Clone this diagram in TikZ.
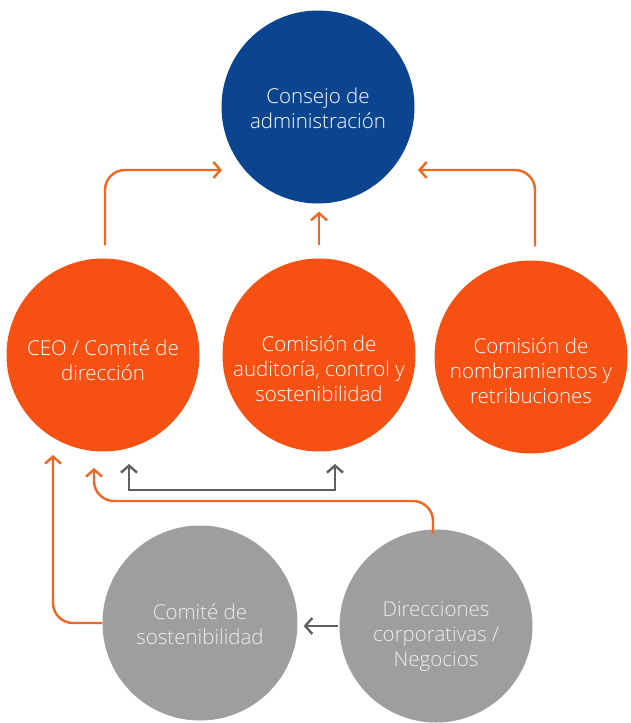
\documentclass[tikz,border=0pt]{standalone}
\usepackage{fontspec}
\setmainfont{Open Sans}[UprightFont=* Light]
\usetikzlibrary{arrows.meta,calc}
\definecolor{cnavy}{HTML}{0B4590}
\definecolor{corange}{HTML}{F65012}
\definecolor{cgray}{HTML}{9E9E9C}
\definecolor{aorange}{HTML}{F26522}
\definecolor{agray}{HTML}{606060}
\begin{document}
\begin{tikzpicture}[x=1pt,y=-1pt,
  circ/.style={circle, inner sep=0pt, minimum size=193pt},
  txt/.style={text=white, align=center, inner sep=0pt, font=\fontsize{20.5}{25}\selectfont},
  gtxt/.style={txt, text=white!93!black},
  barb/.tip={Straight Barb[length=7pt,width=16pt,line width=2.4pt]},
  oarrow/.style={draw=aorange, line width=2.4pt, -{barb}, rounded corners=20pt},
  garrow/.style={draw=agray, line width=2.4pt}]
\useasboundingbox (0,0) rectangle (630,723);
% circles
\node[circ, fill=cnavy] (board) at (318,107) {};
\node[circ, fill=corange] (ceo) at (103,355) {};
\node[circ, fill=corange] (audit) at (319,355) {};
\node[circ, fill=corange] (nomb) at (531,357) {};
\node[circ, fill=cgray, minimum size=195pt] (sost) at (200,623) {};
\node[circ, fill=cgray] (dir) at (436,626) {};
% texts
\node[txt] (board-t) at ($(board)+(0,1)$) {Consejo de\\administración};
\node[txt] (ceo-t) at ($(ceo)+(0,5)$) {CEO / Comité de\\dirección};
\node[txt] (audit-t) at ($(audit)+(0,14)$) {Comisión de\\auditoría, control y\\sostenibilidad};
\node[txt] (nomb-t) at ($(nomb)+(0,14)$) {Comisión de\\nombramientos y\\retribuciones};
\node[gtxt] (sost-t) at ($(sost)+(0,1)$) {Comité de\\sostenibilidad};
\node[gtxt] (dir-t) at ($(dir)+(0,11)$) {Direcciones\\corporativas /\\Negocios};
% connector end points
\coordinate (ceo-up) at ($(ceo.north)+(2,-13)$);
\coordinate (board-l) at (222,170);
\coordinate (audit-up) at ($(audit.north)+(0,-13)$);
\coordinate (board-b) at ($(board.south)+(1,8)$);
\coordinate (nomb-up) at ($(nomb.north)+(4,-14)$);
\coordinate (board-r) at (418,170);
\coordinate (ceo-b1) at (129,464);
\coordinate (audit-b) at (335,464);
\coordinate (ceo-b2) at (94,468);
\coordinate (ceo-b3) at (53,455);
\coordinate (dir-top) at ($(dir.north)+(-3,4)$);
% orange arrows to the board
\draw[oarrow] (ceo-up) |- (board-l);
\draw[oarrow] (audit-up) -- (board-b);
\draw[oarrow] (nomb-up) |- (board-r);
% gray double arrow
\draw[garrow, {barb}-{barb}] (ceo-b1) -- (ceo-b1 |- 0,490) -- (audit-b |- 0,490) -- (audit-b);
% orange from Direcciones to CEO
\draw[oarrow] (dir-top) |- (ceo-b2 |- 0,501) -- (ceo-b2);
% orange from Comité de sostenibilidad to CEO
\draw[oarrow] (sost.west) -| (ceo-b3);
% gray arrow from Direcciones to Comité de sostenibilidad
\draw[garrow, -{barb}] ($(dir.west)+(-1,0)$) -- ($(sost.east)+(6,3)$);
\end{tikzpicture}
\end{document}
